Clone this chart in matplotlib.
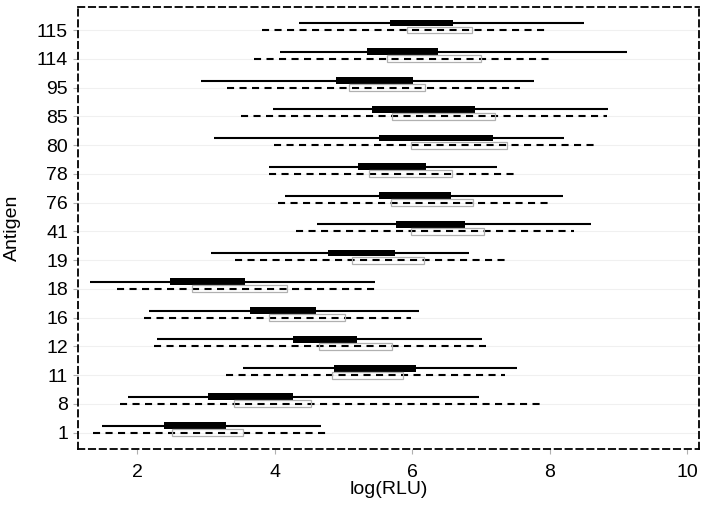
import matplotlib.pyplot as plt
import numpy as np

plt.rcParams['font.family'] = ['Liberation Sans', 'DejaVu Sans']

antigens = ['1', '8', '11', '12', '16', '18', '19', '41', '76', '78', '80', '85', '95', '114', '115']

# solid series: whisker min/max, filled box q1/q3
solid_min = [1.48, 1.87, 3.54, 2.29, 2.17, 1.31, 3.07, 4.62, 4.15, 3.91, 3.12, 3.97, 2.92, 4.07, 4.36]
solid_max = [4.68, 6.98, 7.53, 7.02, 6.10, 5.46, 6.83, 8.61, 8.20, 7.24, 8.21, 8.85, 7.78, 9.13, 8.50]
solid_q1 = [2.39, 3.03, 4.86, 4.26, 3.64, 2.47, 4.78, 5.77, 5.52, 5.21, 5.52, 5.42, 4.89, 5.34, 5.68]
solid_q3 = [3.29, 4.26, 6.05, 5.20, 4.60, 3.57, 5.75, 6.77, 6.57, 6.20, 7.17, 6.92, 6.01, 6.38, 6.60]

# dashed series: whisker min/max, open box q1/q3
dash_min = [1.36, 1.75, 3.29, 2.24, 2.10, 1.71, 3.42, 4.31, 4.04, 3.91, 3.99, 3.51, 3.31, 3.70, 3.82]
dash_max = [4.77, 7.86, 7.35, 7.08, 5.99, 5.48, 7.35, 8.35, 8.04, 7.56, 8.68, 8.83, 7.57, 8.02, 7.95]
dash_q1 = [2.50, 3.41, 4.83, 4.65, 3.91, 2.80, 5.13, 5.98, 5.69, 5.37, 5.98, 5.70, 5.08, 5.64, 5.92]
dash_q3 = [3.54, 4.53, 5.86, 5.71, 5.02, 4.18, 6.17, 7.05, 6.88, 6.58, 7.38, 7.21, 6.19, 7.00, 6.87]

fig = plt.figure(figsize=(7.08, 5.08), dpi=100)
ax = fig.add_axes([0.1106, 0.1161, 0.8771, 0.8695])

y = np.arange(len(antigens))
off = 0.245
box_h = 0.24

ax.hlines(y + off, solid_min, solid_max, color='black', lw=1.5, zorder=2)
ax.barh(y + off, np.subtract(solid_q3, solid_q1), left=solid_q1, height=box_h,
        color='black', edgecolor='black', lw=0, zorder=3)

ax.hlines(y, dash_min, dash_max, color='black', lw=1.5, linestyles=(0, (3.4, 2.6)), zorder=2)
ax.barh(y, np.subtract(dash_q3, dash_q1), left=dash_q1, height=box_h,
        facecolor='none', edgecolor='#b0b0b0', lw=0.9, zorder=3)

for yy in y:
    ax.axhline(yy, color='#f0f0f0', lw=0.8, zorder=0)

ax.set_xlim(1.14, 10.18)
ax.set_ylim(-0.57, 14.79)
ax.set_xticks([2, 4, 6, 8, 10])
ax.set_yticks(y)
ax.set_yticklabels(antigens)

for s in ax.spines.values():
    s.set_linestyle((0, (3.5, 2.5)))
    s.set_linewidth(1.3)
    s.set_color('black')

ax.tick_params(axis='both', colors='#b0b0b0', labelcolor='black', labelsize=14, length=3.5, width=0.8)
ax.tick_params(axis='x', pad=7)
ax.tick_params(axis='y', pad=4)

ax.set_xlabel('log(RLU)', fontsize=14, labelpad=0)
ax.set_ylabel('Antigen', fontsize=14, labelpad=11)

fig.savefig('out.png', dpi=100)
